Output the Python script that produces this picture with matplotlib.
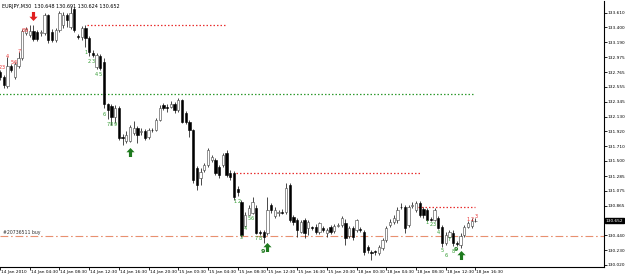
import numpy as np
import matplotlib
matplotlib.use('Agg')
import matplotlib.pyplot as plt
import matplotlib.transforms as mtrans
from matplotlib.path import Path

# EURJPY M30 bars, 14 Jan 2010 00:00 .. 18 Jan 2010 16:30
opens = [132.767, 132.696, 132.568, 132.852, 132.696, 132.852, 132.966, 133.321, 133.293, 133.349,
         133.335, 133.321, 133.321, 133.577, 133.335, 133.222, 133.364, 133.435, 133.577, 133.406,
         133.662, 133.278, 133.264, 133.392, 133.250, 133.037, 132.838, 132.994, 132.909, 132.312,
         132.284, 132.127, 132.255, 131.835, 131.786, 131.786, 131.900, 131.971, 131.914, 131.928,
         131.843, 131.945, 131.943, 132.085, 132.298, 132.270, 132.270, 132.312, 132.227, 132.369,
         132.184, 132.056, 131.943, 131.403, 131.261, 131.374, 131.445, 131.516, 131.516, 131.417,
         131.445, 131.616, 131.332, 131.332, 131.104, 130.920, 130.579, 130.735, 130.763, 130.834,
         130.493, 130.493, 130.479, 130.877, 130.721, 130.763, 130.777, 130.777, 131.161, 130.706,
         130.664, 130.493, 130.664, 130.550, 130.555, 130.564, 130.493, 130.550, 130.479, 130.564,
         130.507, 130.579, 130.593, 130.621, 130.436, 130.550, 130.522, 130.536, 130.493, 130.280,
         130.209, 130.212, 130.195, 130.266, 130.380, 130.593, 130.635, 130.664, 130.850, 130.849,
         130.593, 130.863, 130.806, 130.905, 130.820, 130.806, 130.678, 130.664, 130.692, 130.564,
         130.337, 130.422, 130.479, 130.337, 130.309, 130.451, 130.564, 130.579, 130.648]
highs = [132.795, 132.724, 132.980, 132.881, 132.909, 133.051, 133.378, 133.406, 133.435, 133.435,
         133.364, 133.364, 133.605, 133.591, 133.378, 133.392, 133.634, 133.619, 133.605, 133.691,
         133.691, 133.307, 133.421, 133.435, 133.278, 133.079, 133.037, 133.023, 132.966, 132.326,
         132.312, 132.298, 132.284, 131.886, 131.928, 132.014, 132.071, 132.000, 131.971, 131.957,
         131.971, 131.971, 132.113, 132.298, 132.326, 132.312, 132.355, 132.341, 132.397, 132.383,
         132.213, 132.085, 131.957, 131.431, 131.403, 131.474, 131.687, 131.587, 131.545, 131.445,
         131.616, 131.658, 131.374, 131.360, 131.147, 130.948, 130.777, 130.877, 130.991, 130.877,
         130.522, 130.522, 130.991, 130.905, 130.849, 130.806, 130.820, 131.190, 131.190, 130.735,
         130.692, 130.664, 130.692, 130.664, 130.579, 130.607, 130.635, 130.579, 130.550, 130.593,
         130.607, 130.621, 130.721, 130.678, 130.579, 130.579, 130.678, 130.564, 130.522, 130.309,
         130.237, 130.237, 130.309, 130.408, 130.579, 130.678, 130.735, 130.849, 130.905, 130.877,
         130.877, 130.920, 130.934, 130.934, 130.849, 130.834, 130.706, 130.834, 130.721, 130.593,
         130.493, 130.522, 130.522, 130.365, 130.479, 130.593, 130.650, 130.692, 130.691]
lows = [132.653, 132.540, 132.540, 132.767, 132.667, 132.824, 132.937, 133.293, 133.264, 133.207,
        133.207, 133.278, 133.293, 133.179, 133.193, 133.193, 133.335, 133.392, 133.406, 133.378,
        133.335, 133.236, 133.222, 133.122, 132.994, 132.980, 132.810, 132.795, 132.255, 132.099,
        132.014, 132.042, 131.801, 131.730, 131.758, 131.772, 131.872, 131.758, 131.872, 131.801,
        131.815, 131.914, 131.928, 132.071, 132.227, 132.198, 132.255, 132.184, 132.198, 132.042,
        132.028, 131.843, 131.190, 131.090, 131.161, 131.346, 131.417, 131.488, 131.303, 131.261,
        131.417, 131.275, 131.232, 130.948, 131.005, 130.422, 130.564, 130.730, 130.749, 130.465,
        130.451, 130.337, 130.451, 130.763, 130.692, 130.721, 130.749, 130.749, 130.635, 130.593,
        130.422, 130.479, 130.408, 130.451, 130.522, 130.465, 130.465, 130.493, 130.422, 130.465,
        130.479, 130.564, 130.564, 130.309, 130.408, 130.380, 130.493, 130.493, 130.166, 130.195,
        130.095, 130.166, 130.166, 130.237, 130.351, 130.564, 130.607, 130.621, 130.820, 130.479,
        130.564, 130.834, 130.777, 130.706, 130.692, 130.650, 130.650, 130.650, 130.536, 130.280,
        130.309, 130.408, 130.294, 130.294, 130.266, 130.422, 130.550, 130.550, 130.624]
closes = [132.696, 132.582, 132.852, 132.795, 132.881, 132.966, 133.349, 133.378, 133.349, 133.236,
          133.236, 133.335, 133.577, 133.222, 133.222, 133.364, 133.605, 133.577, 133.506, 133.605,
          133.364, 133.264, 133.392, 133.250, 133.051, 133.008, 133.008, 132.824, 132.312, 132.227,
          132.127, 132.255, 131.829, 131.825, 131.872, 131.985, 131.971, 131.872, 131.928, 131.829,
          131.943, 131.940, 132.085, 132.255, 132.255, 132.255, 132.312, 132.227, 132.369, 132.056,
          132.056, 131.943, 131.232, 131.161, 131.346, 131.445, 131.658, 131.559, 131.332, 131.303,
          131.587, 131.303, 131.275, 130.991, 131.062, 130.451, 130.735, 130.834, 130.920, 130.479,
          130.479, 130.422, 130.806, 130.806, 130.806, 130.777, 130.763, 131.119, 130.664, 130.635,
          130.522, 130.635, 130.479, 130.635, 130.545, 130.493, 130.621, 130.522, 130.522, 130.493,
          130.579, 130.593, 130.692, 130.408, 130.550, 130.422, 130.664, 130.522, 130.209, 130.237,
          130.195, 130.205, 130.280, 130.380, 130.550, 130.635, 130.692, 130.806, 130.845, 130.550,
          130.849, 130.877, 130.905, 130.735, 130.735, 130.664, 130.664, 130.806, 130.550, 130.337,
          130.451, 130.493, 130.337, 130.323, 130.436, 130.564, 130.621, 130.650, 130.652]

time_labels = ['14 Jan 2010', '14 Jan 04:30', '14 Jan 08:30', '14 Jan 12:30', '14 Jan 16:30',
               '14 Jan 20:30', '15 Jan 00:30', '15 Jan 04:30', '15 Jan 08:30', '15 Jan 12:30',
               '15 Jan 16:30', '15 Jan 20:30', '18 Jan 00:30', '18 Jan 04:30', '18 Jan 08:30',
               '18 Jan 12:30', '18 Jan 16:30']
price_ticks = [133.610, 133.400, 133.190, 132.975, 132.765, 132.555, 132.345, 132.130, 131.920,
               131.710, 131.500, 131.285, 131.075, 130.865, 130.440, 130.230, 130.020]

# TD setup counts: (bar, price, text)
red_counts = [(0.1, 132.824, '2'), (1.0, 132.824, '3'), (2.0, 132.980, '4'), (3.2, 132.895, '5'),
              (4.0, 132.895, '6'), (5.1, 133.051, '7'), (6.2, 133.349, '8'), (7.0, 133.349, '9'),
              (126.0, 130.664, '1'), (127.0, 130.664, '2'), (128.3, 130.706, '3')]
green_counts = [(23.1, 133.037, '1'), (24.0, 132.909, '2'), (25.0, 132.909, '3'), (26.0, 132.724, '4'),
                (27.0, 132.724, '5'), (28.0, 132.156, '6'), (29.0, 132.014, '7'), (30.0, 132.014, '8'),
                (31.0, 132.014, '9'),
                (63.4, 130.920, '1'), (64.4, 130.920, '2'), (65.0, 130.408, '3'), (66.0, 130.536, '4'),
                (67.0, 130.678, '5'), (68.0, 130.678, '6'), (69.0, 130.394, '7'), (70.0, 130.394, '8'),
                (115.0, 130.621, '1'), (116.0, 130.593, '2'), (117.0, 130.593, '3'), (118.0, 130.479, '4'),
                (119.0, 130.223, '5'), (120.0, 130.152, '6'), (121.0, 130.380, '7'), (122.0, 130.209, '8')]
green_nines = [(70.7, 130.209), (122.8, 130.237)]
buy_arrows = [(35.0, 131.630), (72.0, 130.280), (124.0, 130.166)]
sell_arrows = [(9.0, 133.563)]

# levels: (start bar, end bar, price)
red_levels = [(23.4, 61.0, 133.435), (63.4, 113.0, 131.332), (112.6, 128.0, 130.849)]
green_level = (-0.3, 128.0, 132.450)
order_price = 130.436

last_ohlc = 'EURJPY,M30  130.648 130.691 130.624 130.652'

o = np.array(opens); h = np.array(highs); l = np.array(lows); c = np.array(closes)
x = np.arange(len(c))
up = c >= o

fig = plt.figure(figsize=(6.25, 2.74), dpi=100)
ax = fig.add_axes([0.0, 0.027, 0.9664, 0.9694])

ax.vlines(x, l, h, color='black', lw=0.5, zorder=2)
ax.bar(x[up], (c - o)[up], bottom=o[up], width=0.62, color='white', edgecolor='#404040', lw=0.4, zorder=3)
ax.bar(x[~up], (c - o)[~up], bottom=o[~up], width=0.62, color='black', edgecolor='black', lw=0.4, zorder=3)

red = '#e83030'
green = '#2f9a2f'
for x0, x1, p in red_levels:
    ax.hlines(p, x0, x1, color=red, lw=0.9, linestyles=(0, (1.2, 1.6)), zorder=1)
ax.hlines(green_level[2], green_level[0], green_level[1], color=green, lw=0.9,
          linestyles=(0, (1.2, 1.6)), zorder=1)
ax.axhline(order_price, color='#e89070', lw=0.8, ls=(0, (7, 2.5, 1.5, 2.5)), zorder=1)
ax.text(0.8, order_price + 0.04, '#20736511 buy', fontsize=3.3, color='#303030', va='center')

for bx, p, t in red_counts:
    ax.text(bx, p, t, fontsize=3.6, color=red, ha='center', va='center', zorder=4)
for bx, p, t in green_counts:
    ax.text(bx, p, t, fontsize=3.6, color=green, ha='center', va='center', zorder=4)
for bx, p in green_nines:
    ax.text(bx, p, '9', fontsize=4.6, color='#1e7a1e', fontweight='bold', ha='center', va='center', zorder=4)

up_arrow = Path([(0, 1), (-0.9, 0.05), (-0.35, 0.05), (-0.35, -1), (0.35, -1), (0.35, 0.05),
                 (0.9, 0.05), (0, 1)])
down_arrow = Path([(0, -1), (-0.9, -0.05), (-0.35, -0.05), (-0.35, 1), (0.35, 1), (0.35, -0.05),
                   (0.9, -0.05), (0, -1)])
for bx, p in buy_arrows:
    ax.plot(bx, p, marker=up_arrow, ms=6.5, color='#1e7a1e', mew=0, ls='none', zorder=5)
for bx, p in sell_arrows:
    ax.plot(bx, p, marker=down_arrow, ms=6.5, color='#e02020', mew=0, ls='none', zorder=5)

ax.text(0.004, 0.99, last_ohlc, transform=ax.transAxes, fontsize=3.5, va='top', ha='left')

ax.set_xlim(0.27, 162.6)
ax.set_ylim(129.996, 133.776)

for s in ['left', 'top']:
    ax.spines[s].set_visible(False)
for s in ['right', 'bottom']:
    ax.spines[s].set_linewidth(0.8)

ax.yaxis.tick_right()
ax.set_yticks(price_ticks)
ax.set_yticklabels(['%.3f' % p for p in price_ticks])
ax.set_xticks(np.arange(len(time_labels)) * 8)
ax.set_xticklabels(time_labels)
ax.tick_params(axis='both', direction='out', length=2, width=0.6, labelsize=3.1, pad=0.8)

offset = mtrans.ScaledTranslation(1.0 / 100, 0, fig.dpi_scale_trans)
for lab in ax.get_xticklabels():
    lab.set_horizontalalignment('left')
    lab.set_transform(lab.get_transform() + offset)

ax.text(1.003, closes[-1], '%.3f' % closes[-1], transform=ax.get_yaxis_transform(), fontsize=3.1,
        color='white', ha='left', va='center', bbox=dict(fc='black', ec='black', pad=0.6), zorder=6)

fig.savefig('out.png', dpi=100, facecolor='white')
